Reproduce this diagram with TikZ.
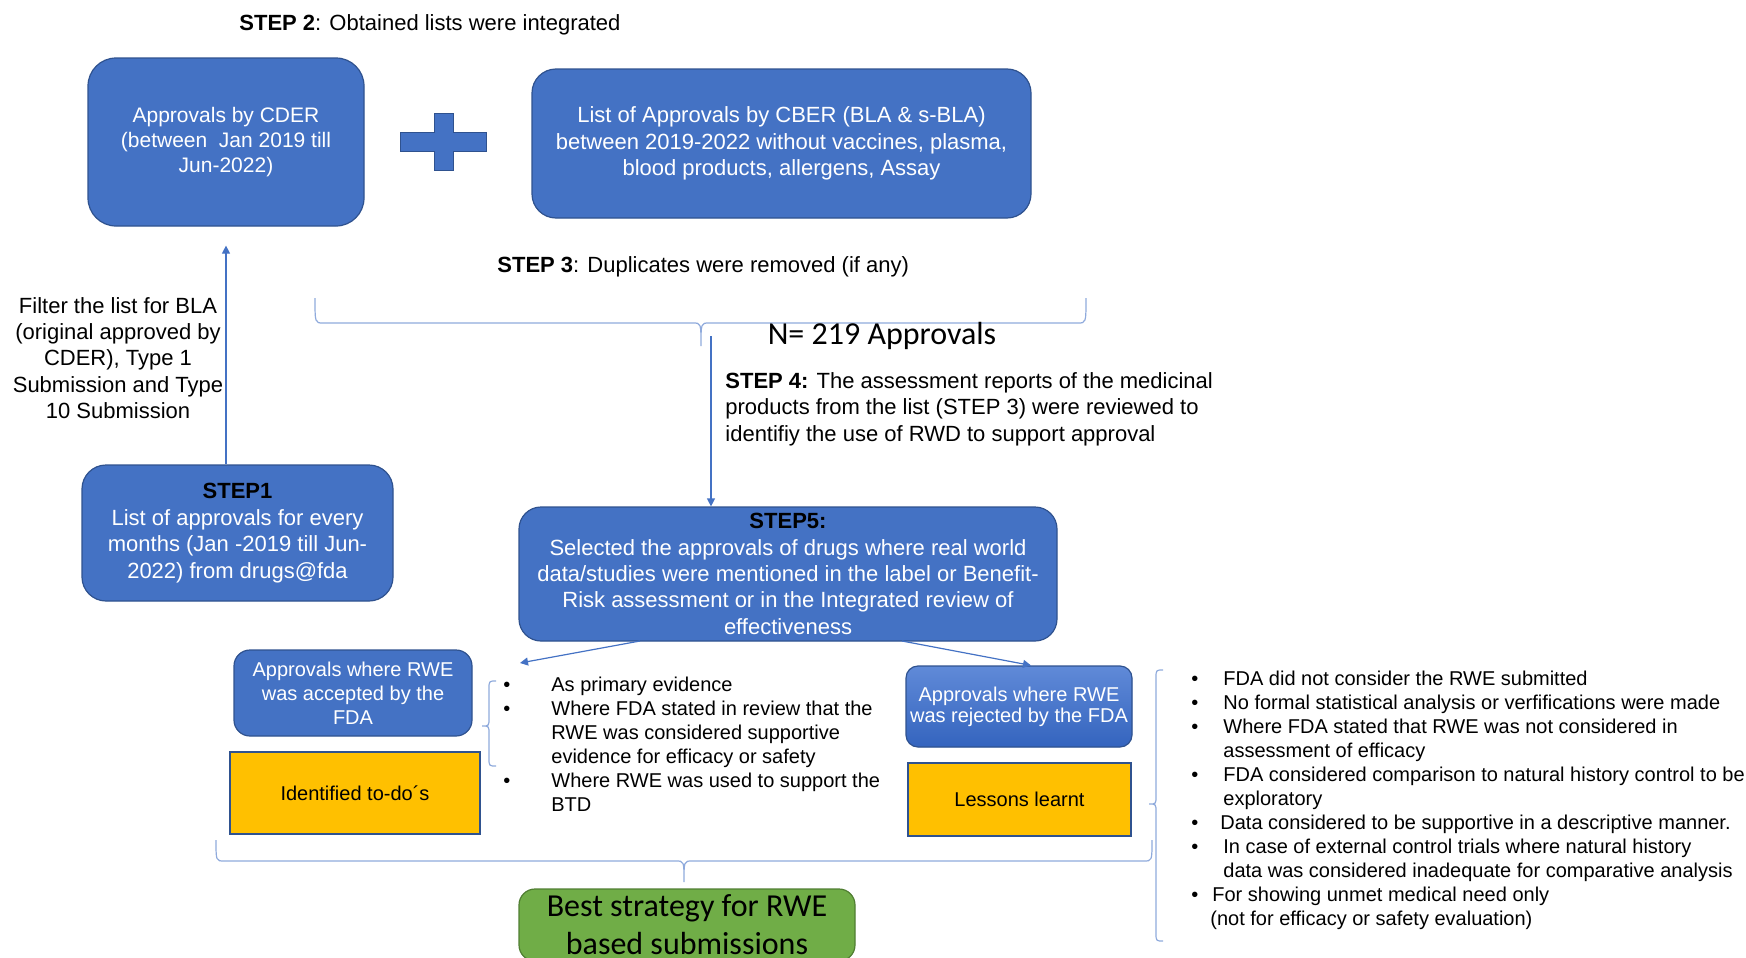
\documentclass[tikz,border=0pt]{standalone}
\usepackage{fontspec}
\setmainfont{Liberation Sans}
\newfontfamily\calibriFont{Carlito}
\usepackage{tikz}
\usetikzlibrary{positioning}
\usetikzlibrary{arrows.meta}
\definecolor{boxBlue}{RGB}{68,114,196}
\definecolor{boxBorder}{RGB}{47,82,143}
\definecolor{rejTop}{RGB}{96,138,216}
\definecolor{rejBottom}{RGB}{52,100,190}
\definecolor{lineBlue}{RGB}{68,114,196}
\definecolor{braceBlue}{RGB}{143,170,220}
\definecolor{boxOrange}{RGB}{255,192,0}
\definecolor{boxGreen}{RGB}{112,173,71}
\definecolor{greenBorder}{RGB}{80,126,50}
\newcommand{\bodyFont}{\fontsize{11}{13.2}\selectfont}
\newcommand{\smallFont}{\fontsize{10}{12}\selectfont}
\newcommand{\bigFont}{\calibriFont\fontsize{16}{19}\selectfont}
\tikzstyle{flowChart} = [x = 0.5pt, y = -0.5pt]
\tikzstyle{stepBox} = [draw=boxBorder, fill=boxBlue, text=white, rounded corners = 12pt, align=center, inner sep=1pt, line width=0.6pt, font=\bodyFont]
\tikzstyle{resultBox} = [stepBox, rounded corners = 8pt, font=\smallFont]
\tikzstyle{todoBox} = [draw=boxBorder, fill=boxOrange, align=center, line width=0.8pt, font=\smallFont]
\tikzstyle{goalBox} = [draw=greenBorder, fill=boxGreen, rounded corners = 8pt, align=center, inner sep=0pt, line width=0.6pt, font=\bigFont]
\tikzstyle{stepText} = [align=left, inner sep=0pt, font=\bodyFont]
\tikzstyle{listText} = [anchor=west, inner sep=0pt, font=\smallFont]
\tikzstyle{flowArrow} = [draw=lineBlue, line width=0.6pt, -{Triangle[length=4pt, width=4pt]}]
\tikzstyle{braceLine} = [draw=braceBlue, line width=0.6pt]
\tikzstyle{plusStyle} = [draw=boxBorder, fill=boxBlue, line width=0.5pt]
\newcommand{\dotItem}{\textbullet}
\newcommand{\horizontalBrace}[6]{\draw [braceLine] (#1,#3) .. controls (#1,#4) .. ({#1 + 8},#4) -- ({#5 - 8},#4) .. controls (#5,#4) .. (#5,#6) .. controls (#5,#4) .. ({#5 + 8},#4) -- ({#2 - 8},#4) .. controls (#2,#4) .. (#2,#3);}
\newcommand{\verticalBrace}[6]{\draw [braceLine] (#3,#1) .. controls (#4,#1) .. (#4,{#1 + 8}) -- (#4,{#5 - 8}) .. controls (#4,#5) .. (#6,#5) .. controls (#4,#5) .. (#4,{#5 + 8}) -- (#4,{#2 - 8}) .. controls (#4,#2) .. (#3,#2);}
\begin{document}
\begin{tikzpicture}[flowChart]
  \useasboundingbox (0,0) rectangle (1746,958);

  \node [stepText, anchor=west] (step2) at (239,25) {\textbf{STEP 2}: Obtained lists were integrated};
  \node [stepBox, minimum width=138pt, minimum height=84pt, rounded corners=14pt, font=\fontsize{10.5}{12.6}\selectfont] (cder) at (226,142) {Approvals by CDER\\(between\ \ Jan 2019 till\\Jun-2022)};
  \node [stepBox, minimum width=249.5pt, minimum height=74.5pt] (cber) at (781.5,143.5) {List of Approvals by CBER (BLA \& s-BLA)\\between 2019-2022 without vaccines, plasma,\\blood products, allergens, Assay};
  \filldraw [plusStyle] (434,113) -- (453,113) -- (453,132) -- (486,132) -- (486,151) -- (453,151) -- (453,170) -- (434,170) -- (434,151) -- (400,151) -- (400,132) -- (434,132) -- cycle;

  \node [stepText, anchor=west] (step3) at (497,267) {\textbf{STEP 3}: Duplicates were removed (if any)};
  \horizontalBrace{315}{1086}{298}{323}{701}{346}
  \node [inner sep=0pt, font=\bigFont] (total) at (882,336) {N= 219 Approvals};
  \coordinate (dupTip) at (711,336);

  \node [stepText, anchor=west] (step4) at (725,409) {\textbf{STEP 4:} The assessment reports of the medicinal\\products from the list (STEP 3) were reviewed to\\identifiy the use of RWD to support approval};
  \node [stepText, align=center] (filter) at (118,358) {Filter the list for BLA\\(original approved by\\CDER), Type 1\\Submission and Type\\10 Submission};

  \node [stepBox, minimum width=155.5pt, minimum height=68pt] (step1) at (237.5,533) {\textcolor{black}{\textbf{STEP1}}\\List of approvals for every\\months (Jan -2019 till Jun-\\2022) from drugs@fda};
  \node [stepBox, minimum width=269pt, minimum height=67pt, rounded corners=11pt] (step5) at (788,574) {\textcolor{black}{\textbf{STEP5:}}\\Selected the approvals of drugs where real world\\data/studies were mentioned in the label or Benefit-\\Risk assessment or in the Integrated review of\\effectiveness};

  \draw [flowArrow, shorten >=9.5pt] (step1.north -| cder.south) -- (cder.south);
  \draw [flowArrow] (dupTip) -- (dupTip |- step5.north);

  \node [resultBox, minimum width=119pt, minimum height=43pt] (accepted) at (353,693) {Approvals where RWE\\was accepted by the\\FDA};
  \node [todoBox, minimum width=125pt, minimum height=41pt] (todo) at (355,793) {Identified to-do´s};
  \node [resultBox, minimum width=113pt, minimum height=40.5pt, rounded corners=6pt, top color=rejTop, bottom color=rejBottom, font=\fontsize{10}{10.5}\selectfont] (rejected) at (1019,706.5) {Approvals where RWE\\was rejected by the FDA};
  \node [todoBox, minimum width=111.5pt, minimum height=36.5pt] (lessons) at (1019.5,799.5) {Lessons learnt};

  \coordinate (leftSplit) at (640,641);
  \coordinate (acceptedTip) at (520,663);
  \coordinate (rightSplit) at (902,641);
  \draw [flowArrow] (leftSplit) -- (acceptedTip);
  \draw [flowArrow] (rightSplit) -- ([xshift=6pt]rejected.north);

  \verticalBrace{681}{766}{496}{489}{726}{482}
  \node [listText] (acceptedList) at (503,746.5) {\smallFont\begin{tabular}{@{}p{24pt}@{}l@{}}
    \dotItem & As primary evidence\\
    \dotItem & Where FDA stated in review that the\\
             & RWE was considered supportive\\
             & evidence for efficacy or safety\\
    \dotItem & Where RWE was used to support the\\
             & BTD
  \end{tabular}};

  \verticalBrace{670}{941}{1163}{1156}{804}{1149}
  \node [listText] (rejectedList) at (1191,801) {\smallFont\begin{tabular}{@{}p{16pt}@{}l@{}}
    \dotItem & FDA did not consider the RWE submitted\\
    \dotItem & No formal statistical analysis or verfifications were made\\
    \dotItem & Where FDA stated that RWE was not considered in\\
             & assessment of efficacy\\
    \dotItem & FDA considered comparison to natural history control to be\\
             & exploratory\\
    \dotItem & \hspace*{-1.5pt}Data considered to be supportive in a descriptive manner.\\
    \dotItem & In case of external control trials where natural history\\
             & data was considered inadequate for comparative analysis\\
    \dotItem & \hspace*{-5.5pt}For showing unmet medical need only\\
             & \hspace*{-6.5pt}(not for efficacy or safety evaluation)
  \end{tabular}};

  \horizontalBrace{216}{1152}{840}{861}{684}{882}
  \node [goalBox, minimum width=168pt, minimum height=36pt] (goal) at (687,925) {Best strategy for RWE\\based submissions};
\end{tikzpicture}
\end{document}
